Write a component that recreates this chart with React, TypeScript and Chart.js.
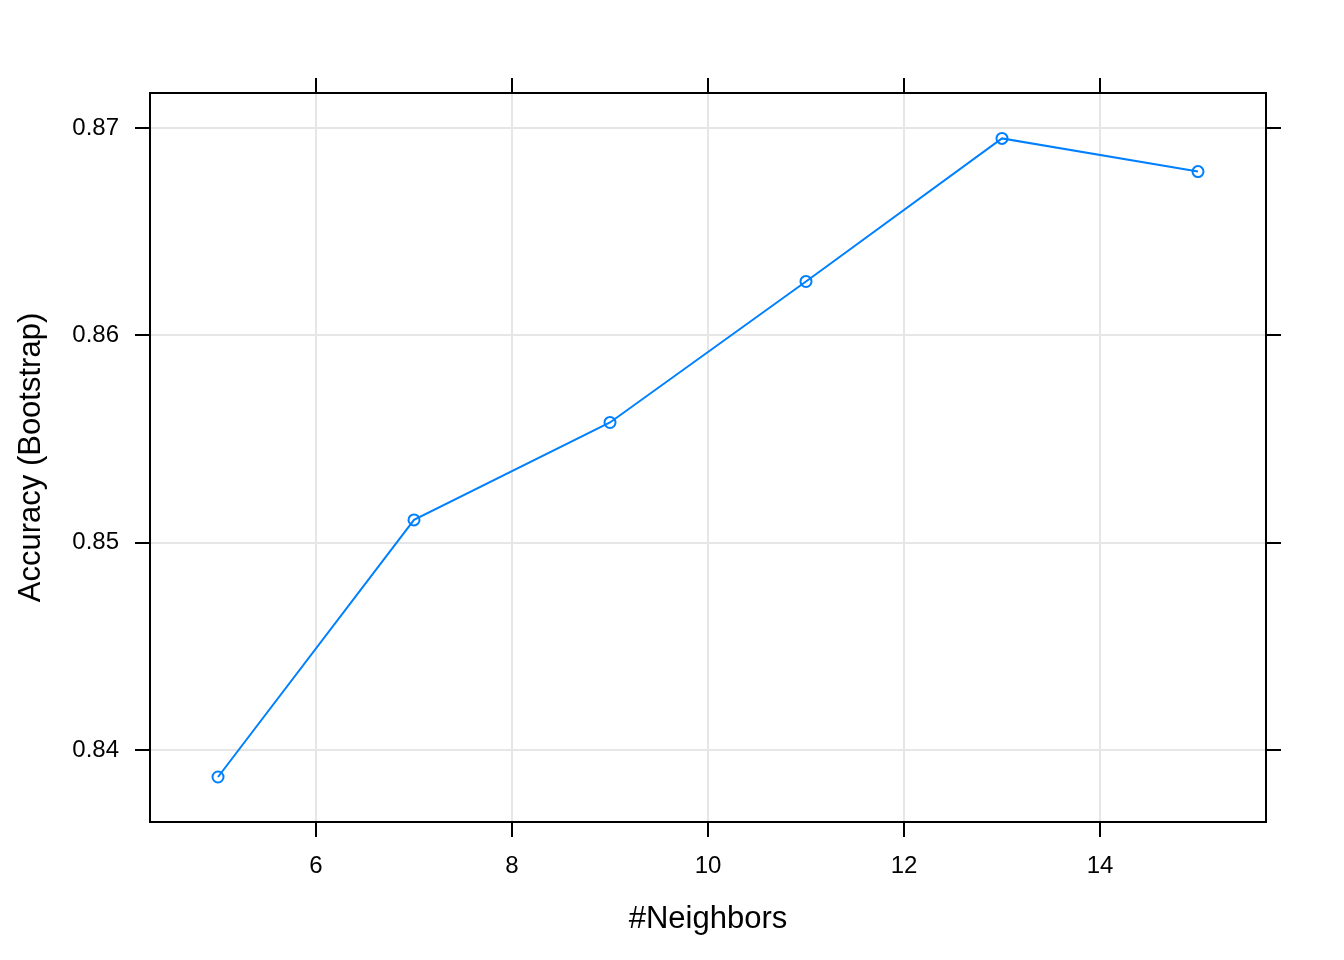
import React, { useEffect, useRef } from "react";
import { Chart, registerables } from "chart.js";

Chart.register(...registerables);

const neighbors = [5, 7, 9, 11, 13, 15];
const accuracy = [0.8387, 0.8511, 0.8558, 0.8626, 0.8695, 0.8679];
const xTickValues = [6, 8, 10, 12, 14];
const yTickValues = [0.84, 0.85, 0.86, 0.87];

const X_MIN = 4.306;
const X_MAX = 15.694;
const Y_MIN = 0.83653;
const Y_MAX = 0.87169;

const FONT = "'Liberation Sans', Arial, sans-serif";

export default function App() {
  const ref = useRef<HTMLCanvasElement | null>(null);

  useEffect(() => {
    if (!ref.current) return;
    const gridCommon = {
      color: "#e6e6e6",
      lineWidth: 2,
      tickColor: "#000000",
      tickLength: 15,
      tickWidth: 2,
    };
    const borderCommon = { display: true, color: "#000000", width: 2 };
    const chart = new Chart(ref.current, {
      type: "line",
      data: {
        datasets: [
          {
            data: neighbors.map((k, i) => ({ x: k, y: accuracy[i] })),
            borderColor: "#0080ff",
            borderWidth: 2,
            pointRadius: 5.5,
            pointBorderWidth: 2,
            pointBorderColor: "#0080ff",
            pointBackgroundColor: "rgba(0,0,0,0)",
            tension: 0,
            fill: false,
          },
        ],
      },
      options: {
        animation: false,
        responsive: false,
        devicePixelRatio: 1,
        layout: { padding: 0 },
        plugins: { legend: { display: false }, tooltip: { enabled: false } },
        scales: {
          x: {
            type: "linear",
            position: "bottom",
            min: X_MIN,
            max: X_MAX,
            afterBuildTicks: (s: any) => {
              s.ticks = xTickValues.map((v) => ({ value: v }));
            },
            afterFit: (s: any) => {
              s.height = 138;
            },
            ticks: {
              color: "#000000",
              font: { family: FONT, size: 24 },
              padding: 15,
              maxRotation: 0,
              callback: (v: any) => String(v),
            },
            grid: gridCommon,
            border: borderCommon,
            title: {
              display: true,
              text: "#Neighbors",
              color: "#000000",
              font: { family: FONT, size: 31 },
              padding: { top: 0, bottom: 22 },
            },
          },
          x2: {
            type: "linear",
            position: "top",
            min: X_MIN,
            max: X_MAX,
            afterBuildTicks: (s: any) => {
              s.ticks = xTickValues.map((v) => ({ value: v }));
            },
            afterFit: (s: any) => {
              s.height = 93;
            },
            ticks: { display: false },
            grid: { ...gridCommon, drawOnChartArea: false },
            border: borderCommon,
          },
          y: {
            type: "linear",
            position: "left",
            min: Y_MIN,
            max: Y_MAX,
            afterBuildTicks: (s: any) => {
              s.ticks = yTickValues.map((v) => ({ value: v }));
            },
            afterFit: (s: any) => {
              s.width = 150;
            },
            ticks: {
              color: "#000000",
              font: { family: FONT, size: 24 },
              padding: 16,
              callback: (v: any) => Number(v).toFixed(2),
            },
            grid: gridCommon,
            border: borderCommon,
            title: {
              display: true,
              text: "Accuracy (Bootstrap)",
              color: "#000000",
              font: { family: FONT, size: 31 },
              padding: { top: 13, bottom: 0 },
            },
          },
          y2: {
            type: "linear",
            position: "right",
            min: Y_MIN,
            max: Y_MAX,
            afterBuildTicks: (s: any) => {
              s.ticks = yTickValues.map((v) => ({ value: v }));
            },
            afterFit: (s: any) => {
              s.width = 78;
            },
            ticks: { display: false },
            grid: { ...gridCommon, drawOnChartArea: false },
            border: borderCommon,
          },
        },
      },
    } as any);
    return () => chart.destroy();
  }, []);

  return (
    <div style={{ position: "absolute", left: 0, top: 0, width: 1344, height: 960, background: "#ffffff" }}>
      <canvas ref={ref} width={1344} height={960} style={{ display: "block", width: 1344, height: 960 }} />
    </div>
  );
}
